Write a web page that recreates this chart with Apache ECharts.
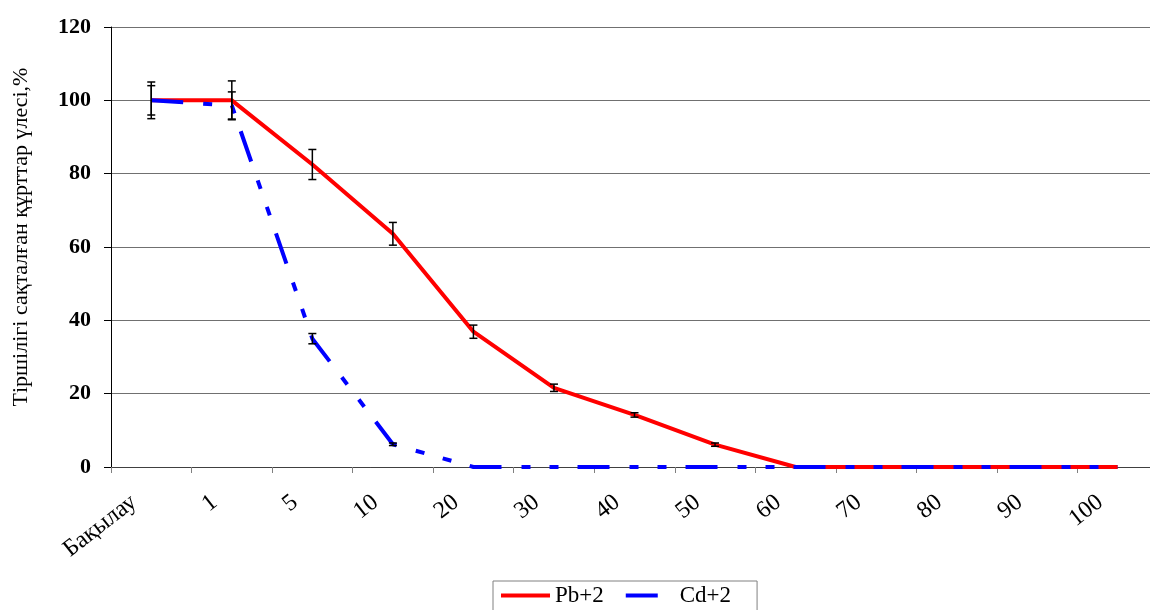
<!DOCTYPE html>
<html>
<head>
<meta charset="utf-8">
<script src="https://cdn.jsdelivr.net/npm/echarts@6/dist/echarts.min.js"></script>
<style>
html,body{margin:0;padding:0;background:#fff;}
#chart{width:1150px;height:610px;}
</style>
</head>
<body>
<div id="chart"></div>
<script>
const categories = ['Бақылау', '1', '5', '10', '20', '30', '40', '50', '60', '70', '80', '90', '100'];
const pbValues = [100, 100, 82.5, 63.6, 36.9, 21.6, 14.2, 6.1, 0, 0, 0, 0, 0];
const pbErrors = [5, 5.3, 4.1, 3.1, 1.8, 1.0, 0.6, 0.45, 0, 0, 0, 0, 0];
const cdValues = [100, 98.6, 35, 6.2, 0, 0, 0, 0, 0, 0, 0, 0, 0];
const cdErrors = [4, 3.7, 1.4, 0.35, 0, 0, 0, 0, 0, 0, 0, 0, 0];
const yTicks = { min: 0, max: 120, interval: 20 };
const seriesNames = ['Pb+2', 'Cd+2'];
const yTitle = 'Тіршілігі сақталған құрттар үлесі,%';

const serif = '"Liberation Serif", "DejaVu Serif", serif';

function errData(vals, errs) {
  return vals.map((v, i) => [i, v, errs[i]]);
}

function renderErr(params, api) {
  const i = api.value(0), v = api.value(1), e = api.value(2);
  if (!e) return null;
  const top = api.coord([i, v + e]);
  const bot = api.coord([i, v - e]);
  const hw = 4;
  const style = { stroke: '#000', lineWidth: 1.5 };
  return {
    type: 'group',
    children: [
      { type: 'line', shape: { x1: top[0], y1: top[1], x2: bot[0], y2: bot[1] }, style },
      { type: 'line', shape: { x1: top[0] - hw, y1: top[1], x2: top[0] + hw, y2: top[1] }, style },
      { type: 'line', shape: { x1: bot[0] - hw, y1: bot[1], x2: bot[0] + hw, y2: bot[1] }, style }
    ]
  };
}

const chart = echarts.init(document.getElementById('chart'), null, { renderer: 'canvas' });
chart.setOption({
  backgroundColor: '#fff',
  animation: false,
  grid: { left: 111, top: 27, right: -8, bottom: 143, containLabel: false, outerBoundsMode: 'none' },
  legend: {
    data: [
      { name: seriesNames[0], lineStyle: { width: 4 } },
      { name: seriesNames[1], lineStyle: { type: [32, 60], width: 4 } }
    ],
    left: 493, top: 581,
    itemWidth: 49, itemHeight: 14, itemGap: 20,
    borderColor: '#808080', borderWidth: 1,
    padding: [3, 26, 12, 6],
    itemStyle: { opacity: 0, borderWidth: 0 },
    textStyle: { fontFamily: serif, fontSize: 23, color: '#000' }
  },
  graphic: [{
    type: 'text',
    x: 21, y: 237,
    rotation: Math.PI / 2,
    style: {
      text: yTitle,
      font: '22px ' + serif,
      fill: '#000',
      textAlign: 'center',
      textVerticalAlign: 'middle'
    }
  }],
  xAxis: {
    type: 'category',
    data: categories,
    boundaryGap: true,
    axisLine: { show: true, lineStyle: { color: '#404040', width: 1 } },
    axisTick: { show: true, length: 6, lineStyle: { color: '#808080' } },
    axisLabel: {
      interval: 0, rotate: 38, margin: 19,
      padding: [0, 22, 0, 0],
      fontFamily: serif, fontSize: 24, color: '#000'
    },
    splitLine: { show: false }
  },
  yAxis: {
    type: 'value',
    min: yTicks.min, max: yTicks.max, interval: yTicks.interval,
    axisLine: { show: true, lineStyle: { color: '#000', width: 1 } },
    axisTick: { show: true, length: 7, lineStyle: { color: '#000' } },
    axisLabel: { margin: 20, fontFamily: serif, fontSize: 22, fontWeight: 'bold', color: '#000' },
    splitLine: { show: true, lineStyle: { color: '#707070', width: 1 } }
  },
  series: [
    {
      name: seriesNames[0], type: 'line', data: pbValues,
      symbol: 'none', z: 3,
      lineStyle: { color: '#ff0000', width: 4 },
      itemStyle: { color: '#ff0000' }
    },
    {
      name: seriesNames[1], type: 'line', data: cdValues,
      symbol: 'none', z: 4,
      lineStyle: { color: '#0000ff', width: 4, type: [32, 20, 9, 19, 9, 19] },
      itemStyle: { color: '#0000ff' }
    },
    {
      type: 'custom', name: 'pbErr', renderItem: renderErr, z: 6,
      data: errData(pbValues, pbErrors), silent: true
    },
    {
      type: 'custom', name: 'cdErr', renderItem: renderErr, z: 6,
      data: errData(cdValues, cdErrors), silent: true
    }
  ]
});
</script>
</body>
</html>
